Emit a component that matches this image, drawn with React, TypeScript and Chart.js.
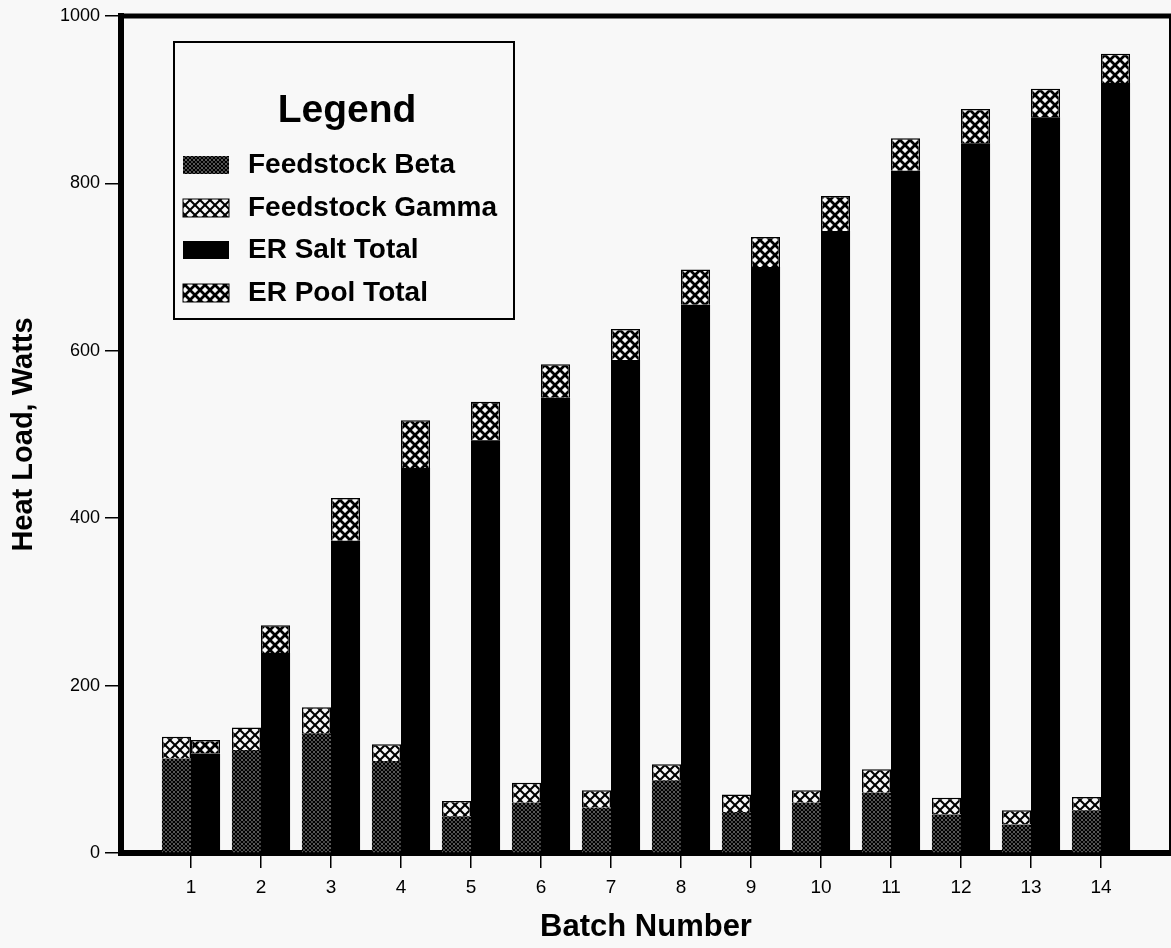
import React, { useEffect, useRef } from "react";
import { Chart, registerables } from "chart.js";

Chart.register(...registerables);

const batches = [1, 2, 3, 4, 5, 6, 7, 8, 9, 10, 11, 12, 13, 14];
const feedstockBeta = [113, 123, 143, 110, 44, 60, 54, 87, 49, 60, 72, 46, 34, 51];
const feedstockGamma = [26, 27, 31, 20, 18, 24, 21, 19, 21, 15, 28, 20, 17, 16];
const erSaltTotal = [119, 239, 373, 460, 493, 544, 589, 655, 700, 743, 815, 848, 879, 920];
const erPoolTotal = [16, 33, 51, 57, 46, 40, 37, 42, 36, 42, 39, 41, 34, 35];
const seriesLabels = ["Feedstock Beta", "Feedstock Gamma", "ER Salt Total", "ER Pool Total"];
const yTickValues = [0, 200, 400, 600, 800, 1000];

const BG = "#f8f8f8";
const FONT = "'Liberation Sans', Arial, Helvetica, sans-serif";

function makePattern(size: number, lineWidth: number): CanvasPattern | string {
  const c = document.createElement("canvas");
  c.width = size;
  c.height = size;
  const g = c.getContext("2d");
  if (!g) return "#000";
  g.fillStyle = BG;
  g.fillRect(0, 0, size, size);
  g.strokeStyle = "#000";
  g.lineWidth = lineWidth;
  for (const o of [-size, 0, size]) {
    g.beginPath();
    g.moveTo(o, 0);
    g.lineTo(o + size, size);
    g.stroke();
    g.beginPath();
    g.moveTo(o + size, 0);
    g.lineTo(o, size);
    g.stroke();
  }
  return g.createPattern(c, "repeat") || "#000";
}

const bgPlugin = {
  id: "bgFill",
  beforeDraw(chart: any) {
    const ctx = chart.ctx;
    ctx.save();
    ctx.fillStyle = BG;
    ctx.fillRect(0, 0, chart.width, chart.height);
    ctx.restore();
  },
};

const framePlugin = {
  id: "frameLegend",
  afterDraw(chart: any) {
    const ctx = chart.ctx as CanvasRenderingContext2D;
    const a = chart.chartArea;
    ctx.save();
    // top and right frame lines
    ctx.strokeStyle = "#000";
    ctx.lineWidth = 5;
    ctx.beginPath();
    ctx.moveTo(a.left - 3, a.top);
    ctx.lineTo(a.right, a.top);
    ctx.stroke();
    ctx.lineWidth = 2;
    ctx.beginPath();
    ctx.moveTo(a.right - 1, a.top);
    ctx.lineTo(a.right - 1, a.bottom);
    ctx.stroke();

    // legend box
    const bx = 174, by = 42, bw = 340, bh = 277;
    ctx.fillStyle = BG;
    ctx.fillRect(bx, by, bw, bh);
    ctx.lineWidth = 2;
    ctx.strokeStyle = "#000";
    ctx.strokeRect(bx, by, bw, bh);

    ctx.fillStyle = "#000";
    ctx.textAlign = "center";
    ctx.textBaseline = "alphabetic";
    ctx.font = `bold 39px ${FONT}`;
    ctx.fillText("Legend", 347, 122);

    ctx.textAlign = "left";
    ctx.font = `bold 28px ${FONT}`;
    const baselines = [173, 216, 258, 301];
    chart.data.datasets.forEach((ds: any, i: number) => {
      const yb = baselines[i];
      ctx.fillStyle = ds.backgroundColor;
      ctx.fillRect(183, yb - 17, 46, 18);
      if (ds.borderWidth) {
        ctx.lineWidth = 1;
        ctx.strokeStyle = "#000";
        ctx.strokeRect(183, yb - 17, 46, 18);
      }
      ctx.fillStyle = "#000";
      ctx.fillText(ds.label, 248, yb);
    });
    ctx.restore();
  },
};

export default function App() {
  const ref = useRef<HTMLCanvasElement | null>(null);

  useEffect(() => {
    if (!ref.current) return;
    const betaPat = makePattern(4, 1.6);
    const gammaPat = makePattern(10, 2.0);
    const poolPat = makePattern(10, 2.7);

    const toXY = (vals: number[]) => batches.map((b, i) => ({ x: b, y: vals[i] }));

    const chart = new Chart(ref.current, {
      type: "bar",
      data: {
        datasets: [
          {
            label: seriesLabels[0],
            data: toXY(feedstockBeta),
            backgroundColor: betaPat as any,
            borderWidth: 0,
            stack: "feed",
          },
          {
            label: seriesLabels[1],
            data: toXY(feedstockGamma),
            backgroundColor: gammaPat as any,
            borderColor: "#000",
            borderWidth: 1.5,
            stack: "feed",
          },
          {
            label: seriesLabels[2],
            data: toXY(erSaltTotal),
            backgroundColor: "#000",
            borderWidth: 0,
            stack: "er",
          },
          {
            label: seriesLabels[3],
            data: toXY(erPoolTotal),
            backgroundColor: poolPat as any,
            borderColor: "#000",
            borderWidth: 1.5,
            stack: "er",
          },
        ],
      },
      options: {
        responsive: false,
        animation: false,
        devicePixelRatio: 1,
        layout: { padding: { top: 16, left: 0, right: 0, bottom: 0 }, autoPadding: false } as any,
        datasets: { bar: { categoryPercentage: 0.83, barPercentage: 1.0 } } as any,
        plugins: {
          legend: { display: false },
          tooltip: { enabled: false },
        },
        scales: {
          x: {
            type: "linear",
            min: 0,
            max: 15,
            offset: false,
            afterFit: (s: any) => {
              s.height = 95;
            },
            afterBuildTicks: (s: any) => {
              s.ticks = batches.map((b) => ({ value: b }));
            },
            ticks: {
              color: "#000",
              font: { size: 19, family: FONT },
              padding: 8,
              callback: (v: any) => String(v),
              maxRotation: 0,
            },
            grid: {
              display: true,
              offset: false,
              drawOnChartArea: false,
              drawTicks: true,
              tickLength: 15,
              color: "#000",
              lineWidth: 1.5,
            },
            border: { display: true, width: 6, color: "#000" },
            title: {
              display: true,
              text: "Batch Number",
              color: "#000",
              font: { size: 31, weight: "bold", family: FONT },
              padding: { top: 0, bottom: 2 },
            },
          },
          y: {
            type: "linear",
            min: 0,
            max: 1000,
            stacked: true,
            afterFit: (s: any) => {
              s.width = 121;
            },
            afterBuildTicks: (s: any) => {
              s.ticks = yTickValues.map((v) => ({ value: v }));
            },
            ticks: {
              color: "#000",
              font: { size: 18, family: FONT },
              padding: 5,
              callback: (v: any) => String(v),
            },
            grid: {
              display: true,
              drawOnChartArea: false,
              drawTicks: true,
              tickLength: 16,
              color: "#000",
              lineWidth: 1.5,
            },
            border: { display: true, width: 6, color: "#000" },
            title: {
              display: true,
              text: "Heat Load, Watts",
              color: "#000",
              font: { size: 29, weight: "bold", family: FONT },
              padding: { top: 7, bottom: 0 },
            },
          },
        },
      },
      plugins: [bgPlugin, framePlugin],
    });
    return () => chart.destroy();
  }, []);

  return (
    <div
      style={{
        position: "fixed",
        left: 0,
        top: 0,
        width: 1171,
        height: 948,
        background: BG,
        overflow: "hidden",
      }}
    >
      <canvas ref={ref} width={1171} height={948} style={{ display: "block" }} />
    </div>
  );
}
